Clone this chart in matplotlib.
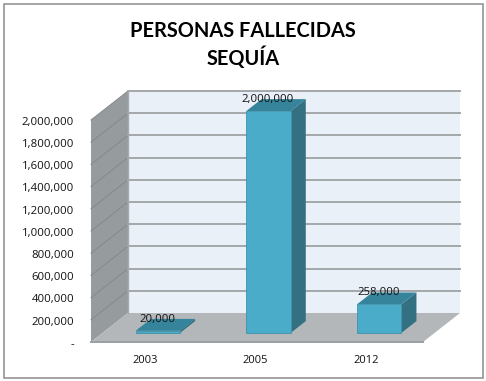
import matplotlib
matplotlib.use("Agg")
import matplotlib.pyplot as plt
from matplotlib.patches import Polygon, Rectangle

categories = ["2003", "2005", "2012"]
values = [20000, 2000000, 258000]
value_labels = ["20,000", "2,000,000", "258,000"]
yticks = list(range(0, 2000001, 200000))
ytick_labels = ["-"] + [f"{v:,}" for v in yticks[1:]]
title = "PERSONAS FALLECIDAS\nSEQUÍA"

W, H = 486, 381
FONT = "Open Sans"
fig = plt.figure(figsize=(W / 100, H / 100), dpi=100, facecolor="white")
fig.add_artist(Rectangle((3.5 / W, 1 - 377.5 / H), 479 / W, 374 / H, transform=fig.transFigure,
                         fill=False, ec="#8c8c8c", lw=1.1))
ax = fig.add_axes([91 / W, 1 - 342 / H, 332 / W, 222 / H])
ax.set_xlim(0, 3)
ax.set_ylim(0, 2000000)
ax.axis("off")

# oblique depth offsets in data units (depth 1 = back wall)
DX = 37 / 332 * 3
DY = 29 / 222 * 2000000
TOP = yticks[-1]


def P(x, y, d):
    return (x + d * DX, y + d * DY)


def poly(pts, fc, ec="none", lw=0, z=1):
    ax.add_patch(Polygon(pts, closed=True, fc=fc, ec=ec, lw=lw, zorder=z, clip_on=False))


# walls and floor
poly([P(0, 0, 1), P(3, 0, 1), P(3, TOP, 1), P(0, TOP, 1)], "#E9F0F7")
poly([P(0, 0, 0), P(0, 0, 1), P(0, TOP, 1), P(0, TOP, 0)], "#969B9D")
poly([P(0, 0, 0), P(3, 0, 0), P(3, 0, 1), P(0, 0, 1)], "#B3B7BA")

# gridlines
for v in yticks:
    if v > 0:
        ax.plot(*zip(P(0, v, 0), P(0, v, 1)), color="#84898B", lw=0.7, zorder=2, clip_on=False)
        ax.plot(*zip(P(0, v, 1), P(3, v, 1)), color="#A5A8AA", lw=1.4, zorder=2, clip_on=False)
ax.plot(*zip(P(0, 0, 0), P(3, 0, 0)), color="#9C9FA1", lw=1.4, zorder=2, clip_on=False)
ax.plot(*zip(P(0, 0, 1), P(0, TOP, 1)), color="#A8ABAD", lw=1.0, zorder=2, clip_on=False)

# bars
d0, d1, bw = 0.31, 0.72, 0.40
for i, (v, lab) in enumerate(zip(values, value_labels)):
    x0, x1 = i + 0.5 - bw / 2, i + 0.5 + bw / 2
    poly([P(x1, 0, d0), P(x1, 0, d1), P(x1, v, d1), P(x1, v, d0)], "#327082", z=3)
    poly([P(x0, v, d0), P(x1, v, d0), P(x1, v, d1), P(x0, v, d1)], "#35849B", z=3)
    poly([P(x0, 0, d0), P(x1, 0, d0), P(x1, v, d0), P(x0, v, d0)], "#4AACC8", ec="#3F93AA", lw=0.6, z=4)
    ax.annotate(lab, P(i + 0.5, v, d0), xytext=(-0.3, 8.4), textcoords="offset points", ha="center",
                va="center", fontsize=8.2, family=FONT, color="#111111", zorder=6, annotation_clip=False)

# tick labels
for v, lab in zip(yticks, ytick_labels):
    ax.annotate(lab, (0, v), xytext=(-12.2, -1.7), textcoords="offset points", ha="right", va="center",
                fontsize=8.2, family=FONT, color="#111111", annotation_clip=False)
for i, c in enumerate(categories):
    ax.annotate(c, (i + 0.5, 0), xytext=(-1, -13.4), textcoords="offset points", ha="center", va="center",
                fontsize=8.0, family=FONT, color="#111111", annotation_clip=False)

fig.text(243 / W, 1 - 45 / H, title, ha="center", va="center", fontsize=14.4, fontweight="bold",
         family="Lato", color="black", linespacing=1.25)
fig.savefig("out.png", dpi=100, facecolor="white")
